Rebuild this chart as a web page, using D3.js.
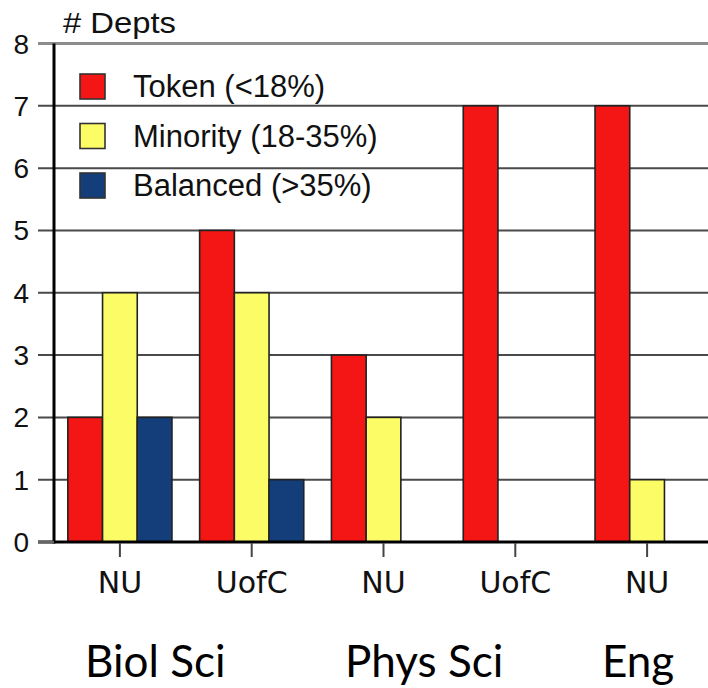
<!DOCTYPE html>
<html>
<head>
<meta charset="utf-8">
<script src="https://cdn.jsdelivr.net/npm/d3@7"></script>
<style>
  html, body { margin: 0; padding: 0; background: #fff; }
  svg { display: block; }
</style>
</head>
<body>
<svg id="chart" width="708" height="688"></svg>
<script>
// ---- data ----
const categories = ["NU", "UofC", "NU", "UofC", "NU"];
const seriesNames = ["Token (<18%)", "Minority (18-35%)", "Balanced (>35%)"];
const tokenValues = [2, 5, 3, 7, 7];
const minorityValues = [4, 4, 2, 0, 1];
const balancedValues = [2, 1, 0, 0, 0];
const yTicks = [0, 1, 2, 3, 4, 5, 6, 7, 8];
const fieldLabels = ["Biol Sci", "Phys Sci", "Eng"];
const yTitle = "# Depts";

const seriesValues = [tokenValues, minorityValues, balancedValues];
const colors = ["#F41515", "#FCFC66", "#143E7A"];

const svg = d3.select("#chart");
const W = 708;
const axisX = 54, y0px = 542, y8px = 43.5;

const x = d3.scaleBand()
  .domain(d3.range(categories.length))
  .range([axisX, 713])
  .paddingInner(0.21)
  .paddingOuter(0.105);
const xSub = d3.scaleBand()
  .domain(d3.range(seriesNames.length))
  .range([0, x.bandwidth()]);
const y = d3.scaleLinear().domain([0, 8]).range([y0px, y8px]);

// gridlines (including tick stubs to the left of the axis)
svg.append("g").selectAll("line")
  .data(yTicks.filter(d => d > 0))
  .join("line")
  .attr("x1", 38).attr("x2", W)
  .attr("y1", d => y(d)).attr("y2", d => y(d))
  .attr("stroke", d => d === 8 ? "#8c8c8c" : "#4a4a4a")
  .attr("stroke-width", d => d === 8 ? 3 : 2);

// y tick labels
svg.append("g").selectAll("text")
  .data(yTicks)
  .join("text")
  .attr("x", 29).attr("y", d => y(d) + 10)
  .attr("text-anchor", "end")
  .attr("font-family", "Liberation Sans, Arial, sans-serif")
  .attr("font-size", 28)
  .attr("fill", "#111")
  .text(d => d);

// y title
svg.append("text")
  .attr("x", 63).attr("y", 33)
  .attr("font-family", "Liberation Sans, Arial, sans-serif")
  .attr("font-size", 29)
  .attr("fill", "#111")
  .attr("textLength", 113)
  .attr("lengthAdjust", "spacingAndGlyphs")
  .text(yTitle);

// bars
const groups = svg.append("g").selectAll("g")
  .data(categories.map((c, i) => i))
  .join("g")
  .attr("transform", i => `translate(${x(i)},0)`);

groups.selectAll("rect")
  .data(i => seriesValues.map((vals, s) => ({ s, v: vals[i] })).filter(d => d.v > 0))
  .join("rect")
  .attr("x", d => xSub(d.s))
  .attr("width", xSub.bandwidth())
  .attr("y", d => y(d.v))
  .attr("height", d => y(0) - y(d.v))
  .attr("fill", d => colors[d.s])
  .attr("stroke", "#222")
  .attr("stroke-width", 1.6);

// y axis line
svg.append("line")
  .attr("x1", axisX).attr("x2", axisX)
  .attr("y1", y(8)).attr("y2", y(0) + 1.5)
  .attr("stroke", "#000").attr("stroke-width", 3);

// x axis line
svg.append("line")
  .attr("x1", 38).attr("x2", W)
  .attr("y1", y(0)).attr("y2", y(0))
  .attr("stroke", "#000").attr("stroke-width", 3);
// tick stub for 0 left of axis
svg.append("line")
  .attr("x1", 38).attr("x2", axisX)
  .attr("y1", y(0)).attr("y2", y(0))
  .attr("stroke", "#666").attr("stroke-width", 2.5);

// x ticks and labels
const xt = svg.append("g").selectAll("g")
  .data(categories.map((c, i) => i))
  .join("g")
  .attr("transform", i => `translate(${x(i) + x.bandwidth() / 2},0)`);
xt.append("line")
  .attr("y1", y(0) + 1).attr("y2", 557)
  .attr("stroke", "#444").attr("stroke-width", 2);
xt.append("text")
  .attr("y", 593)
  .attr("text-anchor", "middle")
  .attr("font-family", "DejaVu Sans, sans-serif")
  .attr("font-size", 30)
  .attr("fill", "#111")
  .text(i => categories[i]);

// legend
const leg = svg.append("g").selectAll("g")
  .data(seriesNames.map((n, i) => i))
  .join("g")
  .attr("transform", i => `translate(80,${74 + i * 49.5})`);
leg.append("rect")
  .attr("width", 25).attr("height", 25)
  .attr("fill", i => colors[i])
  .attr("stroke", "#333").attr("stroke-width", 1.6);
leg.append("text")
  .attr("x", 53).attr("y", 23)
  .attr("font-family", "Liberation Sans, Arial, sans-serif")
  .attr("font-size", 31)
  .attr("fill", "#111")
  .text(i => seriesNames[i]);

// field labels below
const fieldX = [85, 345, 602];
svg.append("g").selectAll("text")
  .data(fieldLabels)
  .join("text")
  .attr("x", (d, i) => fieldX[i])
  .attr("y", 677)
  .attr("font-family", "Lato, sans-serif")
  .attr("font-size", 44)
  .attr("fill", "#000")
  .text(d => d);
</script>
</body>
</html>
